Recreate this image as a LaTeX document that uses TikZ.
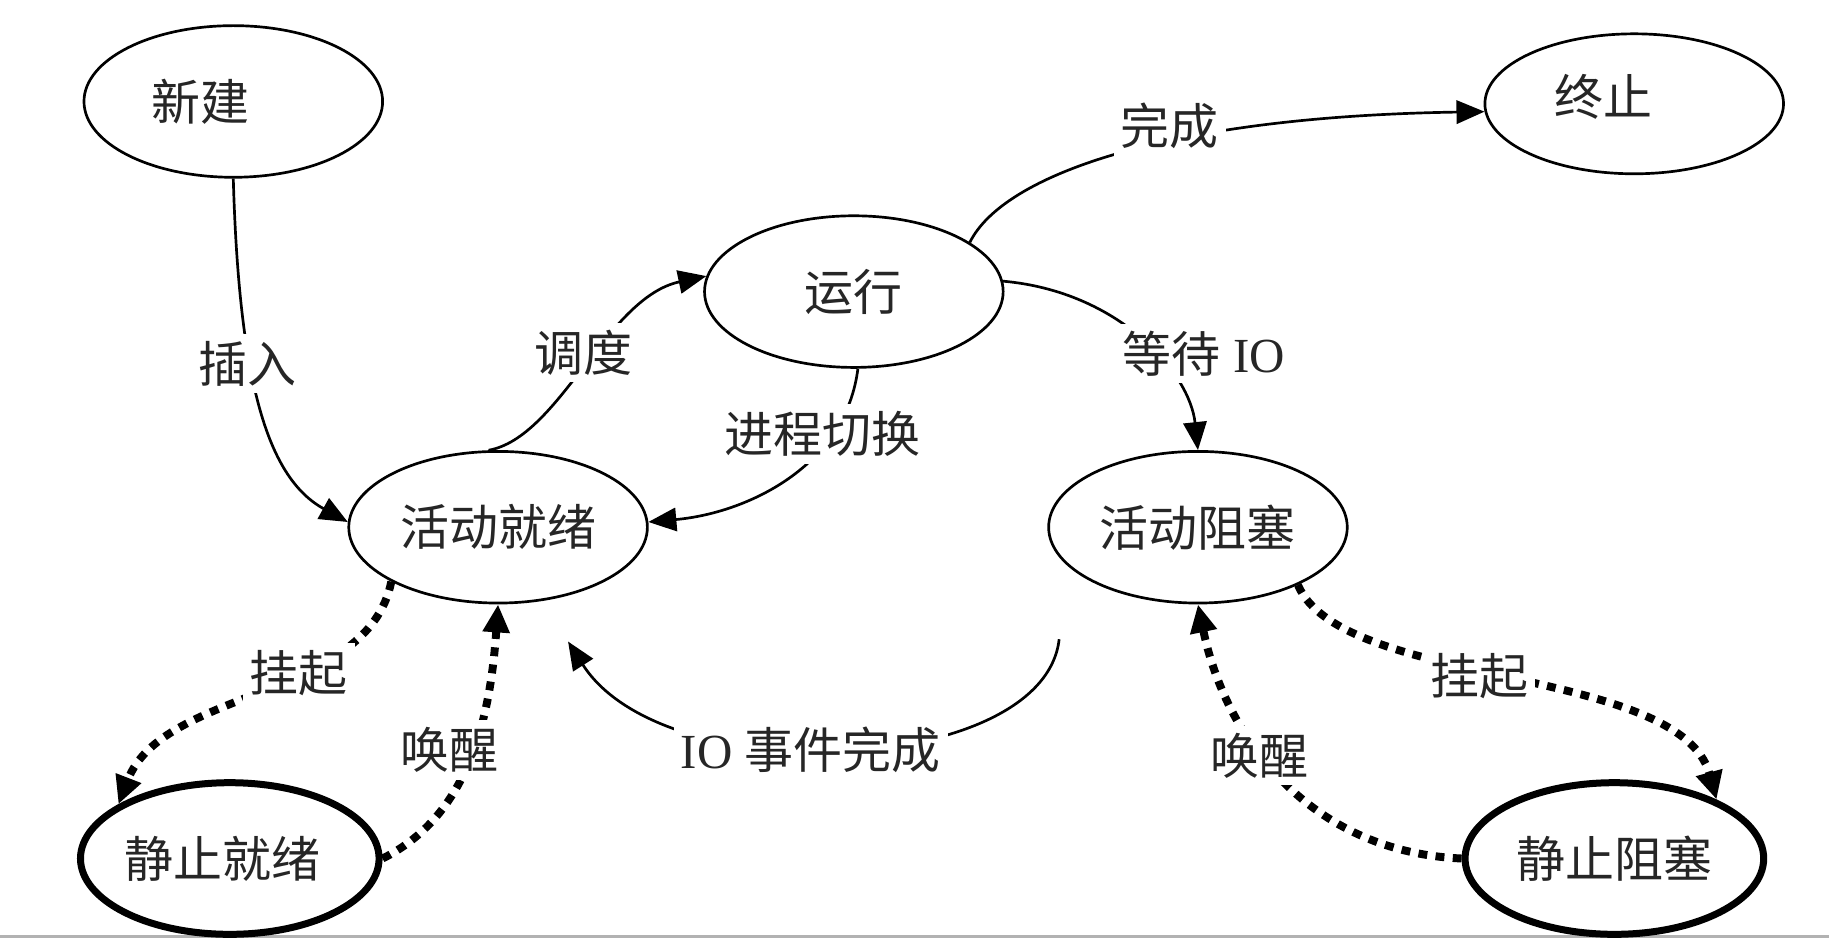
\documentclass[tikz,border=0pt]{standalone}
\usepackage{fontspec}
\setmainfont{Liberation Serif}
\newfontfamily\cjk{Noto Sans CJK SC}
\usetikzlibrary{arrows.meta,shapes.geometric}
\begin{document}
\begin{tikzpicture}[x=0.5pt,y=-0.5pt,
  state/.style={ellipse,draw,line width=1.15pt,minimum width=128pt,minimum height=65pt,inner sep=0pt,font=\cjk\fontsize{21}{25}\selectfont,text=black!85},
  sstate/.style={state,line width=3pt},
  intext/.style={font=\cjk\fontsize{21}{25}\selectfont,text=black!85,inner sep=0pt},
  edge/.style={line width=1.15pt,-{Triangle[length=12pt,width=10pt]}},
  dotedge/.style={line width=3.4pt,dash pattern=on 3.8pt off 3.6pt,-{Triangle[length=12pt,width=11pt]}},
  lbl/.style={fill=white,inner sep=3pt,font=\fontsize{21}{25}\selectfont,text=black!85}
]
\useasboundingbox (0,0) rectangle (1568,806);
\fill[white] (0,0) rectangle (1568,806);
\draw[gray!60,line width=1.5pt] (0,803) -- (1568,803);

% states
\node[state,label={[intext,xshift=-14pt]center:新建}] (new) at (200,87) {};
\node[state,minimum height=60pt,label={[intext,xshift=-13pt,yshift=3pt]center:终止}] (term) at (1401,89) {};
\node[state] (run) at (732,250) {运行};
\node[state] (ready) at (427,452) {活动就绪};
\node[state] (blocked) at (1027,452) {活动阻塞};
\node[sstate,label={[intext,xshift=-3pt]center:静止就绪}] (sready) at (197,736) {};
\node[sstate] (sblocked) at (1384,736) {静止阻塞};

% solid transitions
\draw[edge] (new.south) .. controls (205,330) and (230,410) .. (ready.178);
\draw[edge] (ready.97) .. controls (480,375) and (520,255) .. (run.174);
\draw[edge] (run.-87) .. controls (725,400) and (640,440) .. (ready.2);
\draw[edge] (run.4) .. controls (960,250) and (1020,320) .. (blocked.north);
\draw[edge] (run.23) .. controls (860,150) and (1000,100) .. (term.183);
\coordinate (iostart) at (908,548);
\coordinate (ioend) at (487,550);
\draw[edge] (iostart) .. controls (895,665) and (570,680) .. (ioend);

% dotted transitions
\draw[dotedge] (ready.207) .. controls (315,600) and (140,590) .. (sready.154);
\draw[dotedge] (sready.east) .. controls (400,700) and (420,620) .. (ready.south);
\draw[dotedge] (blocked.-30) .. controls (1150,590) and (1440,570) .. (sblocked.30);
\draw[dotedge] (sblocked.west) .. controls (1120,730) and (1050,630) .. (blocked.south);

% labels
\node[lbl] (l-insert) at (212,312) {\cjk 插入};
\node[lbl] (l-sched) at (500,302) {\cjk 调度};
\node[lbl] (l-switch) at (705,372) {\cjk 进程切换};
\node[lbl] (l-wait) at (1032,303) {{\cjk 等待} IO};
\node[lbl] (l-done) at (1003,108) {\cjk 完成};
\node[lbl] (l-io) at (695,643) {IO {\cjk 事件完成}};
\node[lbl] (l-s1) at (256,577) {\cjk 挂起};
\node[lbl] (l-w1) at (385,643) {\cjk 唤醒};
\node[lbl] (l-s2) at (1268,580) {\cjk 挂起};
\node[lbl] (l-w2) at (1080,648) {\cjk 唤醒};
\end{tikzpicture}
\end{document}
